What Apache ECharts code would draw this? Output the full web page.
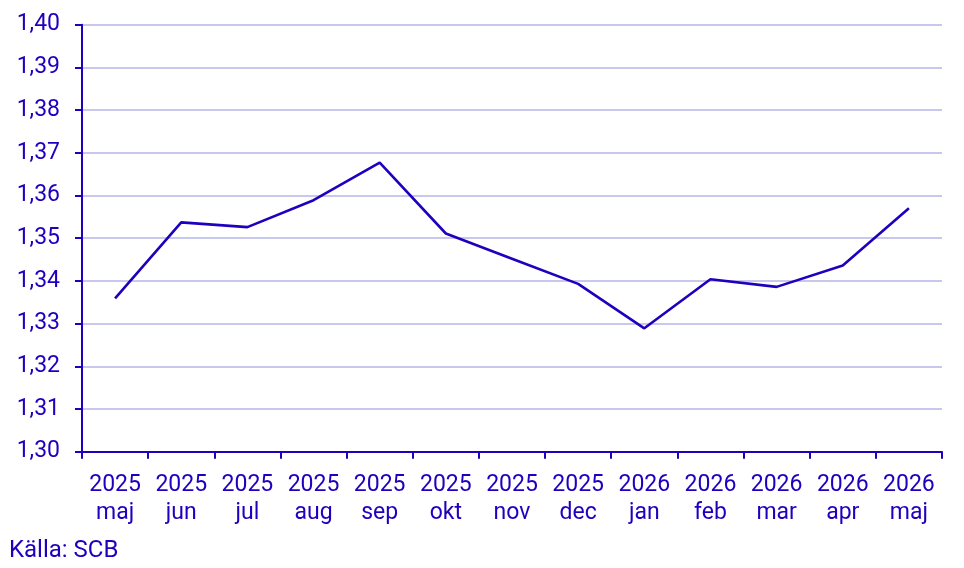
<!DOCTYPE html>
<html>
<head>
<meta charset="utf-8">
<script src="https://cdn.jsdelivr.net/npm/echarts@6/dist/echarts.min.js"></script>
<style>
html,body{margin:0;padding:0;background:#fff;}
#chart{width:964px;height:568px;}
</style>
</head>
<body>
<div id="chart"></div>
<script>
const categories = ["2025\nmaj","2025\njun","2025\njul","2025\naug","2025\nsep","2025\nokt","2025\nnov","2025\ndec","2026\njan","2026\nfeb","2026\nmar","2026\napr","2026\nmaj"];
const values = [1.3359,1.3537,1.3526,1.3589,1.3677,1.3511,1.3452,1.3393,1.3289,1.3404,1.3386,1.3436,1.3570];
const yMin = 1.30, yMax = 1.40, yStep = 0.01;
const source = "Källa: SCB";

const blue = "#1E00BE";
const chart = echarts.init(document.getElementById('chart'), null, {renderer:'canvas'});
chart.setOption({
  animation:false,
  backgroundColor:'#fff',
  textStyle:{fontFamily:'Roboto'},
  grid:{left:82,right:22,top:24.7,bottom:116.3,containLabel:false},
  graphic:[{type:'text',left:9,top:539,style:{text:source,fill:blue,font:'24px Roboto'}}],
  xAxis:{
    type:'category',data:categories,boundaryGap:true,
    axisLine:{lineStyle:{color:blue,width:2}},
    axisTick:{show:true,length:7,lineStyle:{color:blue,width:2},alignWithLabel:false},
    axisLabel:{color:blue,fontSize:23,fontFamily:'Roboto',lineHeight:28,margin:20,interval:0}
  },
  yAxis:{
    type:'value',min:yMin,max:yMax,interval:yStep,
    axisLine:{show:true,lineStyle:{color:blue,width:2}},
    axisTick:{show:true,length:7,lineStyle:{color:blue,width:2}},
    axisLabel:{color:blue,fontSize:23,fontFamily:'Roboto',margin:22,
      formatter:v=>v.toFixed(2).replace('.',',')},
    splitLine:{show:true,lineStyle:{color:'#c8c8ee',width:2}}
  },
  series:[{type:'line',data:values,symbol:'none',lineStyle:{color:blue,width:2.6},z:5}]
});
</script>
</body>
</html>
